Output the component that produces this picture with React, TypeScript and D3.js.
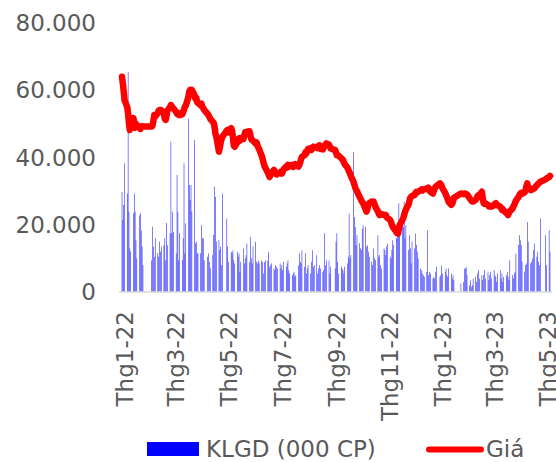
import * as d3 from "d3";

// price (thousand VND), one row per month of trading days
const price2022 = [
  64.0, 62.0, 59.5, 57.0, 55.0, 53.0, 50.0, 48.2, 49.5, 51.7, 50.5, 48.8, 50.0, 49.5, 49.2, 48.5, 49.0, 49.3, 49.2,
  49.2, 49.5, 51.0, 52.6, 52.2, 53.2, 54.0, 54.1, 53.8, 54.1, 53.0, 51.5, 51.2, 52.5, 54.0, 55.0,
  55.6, 55.2, 54.8, 54.5, 53.6, 53.0, 52.8, 53.2, 52.6, 52.8, 53.5, 54.3, 55.1, 55.4, 58.0, 59.6, 60.1, 59.8, 60.1, 58.5, 57.5, 57.8, 56.5,
  56.2, 55.5, 56.0, 55.0, 54.7, 54.2, 53.0, 52.6, 52.1, 51.5, 50.6, 50.3, 49.0, 47.0, 46.2, 41.7, 43.0, 44.5, 45.5, 46.2,
  48.0, 48.2, 47.5, 48.7, 48.0, 46.0, 43.5, 43.2, 44.5, 45.5, 45.7, 45.0, 45.8, 45.5, 46.5, 47.5, 47.2, 47.7, 47.8, 46.5,
  45.5, 45.2, 45.0, 44.2, 44.5, 43.7, 43.0, 42.5, 40.5, 39.5, 38.5, 37.5, 37.0, 35.5, 34.8, 34.2, 34.8, 35.2, 36.3, 35.8, 35.3, 35.0,
  35.2, 35.4, 35.8, 35.2, 35.8, 36.5, 37.3, 37.0, 37.8, 37.3, 37.5, 37.8, 37.2, 37.8, 38.0, 37.6, 37.3, 37.8, 38.5, 39.5, 40.2,
  40.7, 41.5, 41.2, 42.0, 42.5, 42.8, 42.3, 42.8, 43.2, 43.0, 43.1, 42.8, 43.5, 43.6, 42.6, 42.4, 43.0, 43.5, 43.8, 44.2, 43.8, 43.2, 42.7,
  42.2, 41.5, 40.7, 40.8, 40.5, 39.8, 39.5, 39.3, 38.5, 38.0, 37.0, 36.5, 35.8, 35.3, 34.5, 32.8, 32.0, 31.0, 30.5, 30.0,
  28.3, 27.8, 27.2, 26.8, 26.4, 24.5, 23.9, 24.8, 26.0, 26.4, 26.9, 26.8, 26.9, 26.2, 25.4, 24.0, 23.2, 22.9, 23.0, 23.2, 22.9,
  23.0, 22.9, 22.3, 22.0, 21.4, 20.8, 20.0, 19.4, 19.0, 17.9, 17.5, 17.4, 18.8, 20.0, 21.4, 22.0, 22.9, 23.8, 24.5, 26.0, 27.0, 28.0,
  28.3, 28.6, 28.8, 29.5, 29.8, 29.6, 29.8, 30.3, 30.5, 30.2, 30.5, 30.6, 30.8, 30.5, 31.0, 30.2, 29.8, 29.3, 30.0, 30.8, 31.3, 31.5,
];
const price2023 = [
  32.3, 32.0, 31.5, 30.8, 29.5, 28.8, 28.3, 27.5, 26.8, 25.9, 26.2, 27.0, 28.0, 29.3, 29.1, 29.3,
  29.3, 29.0, 29.0, 27.9, 27.5, 27.2, 26.9, 26.9, 27.4, 27.8, 28.5, 28.8, 28.8, 29.8, 28.0, 26.4, 26.2, 26.4, 25.9, 25.4,
  25.4, 25.6, 25.4, 25.8, 26.2, 26.4, 26.0, 25.8, 25.4, 25.0, 24.4, 24.6, 24.2, 23.5, 23.2, 22.9, 23.5, 24.0, 24.8, 25.4, 25.9, 26.5, 27.2,
  28.3, 28.8, 29.3, 29.5, 29.2, 29.6, 30.3, 31.5, 32.3, 31.0, 30.3, 30.6, 30.5, 30.8, 30.8, 31.8, 32.0, 32.3, 32.5, 32.8,
  33.5, 33.8, 34.2, 34.5,
];

// volume (thousand shares)
const volume2022 = [
  29.8, 21.4, 25.9, 38.3, 29.3, 65.5, 23.9, 13.0, 12.0, 23.4, 29.3, 23.9, 15.4, 10.0, 22.8, 23.4, 18.3, 13.5, 8.0,
  9.4, 19.4, 13.5, 10.5, 16.0, 11.6, 10.5, 15.0, 12.0, 13.5, 13.9, 16.0, 9.4, 20.5, 13.9, 17.5,
  44.7, 17.5, 23.9, 17.9, 11.5, 34.8, 23.9, 9.4, 17.5, 9.5, 16.0, 38.3, 11.5, 20.4, 51.6, 31.8, 27.4, 31.8, 24.0, 45.2, 14.5, 15.0, 11.5,
  11.5, 11.5, 19.9, 16.0, 16.0, 9.4, 10.5, 11.5, 9.0, 7.1, 11.0, 17.0, 31.3, 28.3, 15.0, 15.5, 12.5, 13.5, 8.0, 29.3,
  21.8, 13.5, 9.0, 11.9, 11.5, 12.4, 9.5, 8.5, 12.0, 10.5, 11.5, 5.9, 9.0, 12.9, 8.5, 10.0, 10.9, 14.4, 8.9, 16.4,
  10.0, 8.5, 13.5, 14.9, 9.0, 8.5, 9.4, 8.5, 9.4, 8.9, 5.5, 8.9, 9.4, 9.4, 11.9, 7.4, 8.0, 8.5, 7.0, 6.5, 8.0, 7.5,
  7.0, 8.5, 7.0, 8.0, 6.5, 9.0, 7.5, 8.5, 9.4, 6.5, 5.5, 5.0, 5.5, 6.0, 4.5, 5.0, 7.9, 11.5, 9.0, 8.5, 12.4,
  7.5, 11.5, 5.5, 7.0, 8.0, 5.5, 9.0, 12.4, 7.5, 8.0, 10.9, 5.5, 7.0, 8.0, 7.0, 6.0, 6.5, 17.5, 8.0, 9.4, 9.4, 5.5, 7.5,
  7.0, 14.9, 17.5, 9.0, 5.5, 7.5, 7.0, 6.5, 5.5, 7.5, 8.5, 10.5, 23.3, 10.0, 11.0, 41.6, 22.3, 19.3, 13.9, 16.9,
  14.5, 13.0, 12.5, 18.9, 19.8, 19.4, 13.5, 13.9, 12.0, 10.5, 9.0, 8.0, 13.0, 10.0, 9.5, 16.9, 10.5, 11.0, 8.0, 7.0, 13.0,
  12.5, 11.0, 13.5, 14.4, 10.5, 10.0, 12.5, 15.4, 14.0, 16.0, 19.0, 18.4, 26.4, 19.8, 21.3, 19.4, 26.9, 16.0, 19.8, 12.5, 16.9, 13.0,
  8.5, 15.0, 13.0, 17.4, 14.0, 12.0, 10.0, 7.0, 6.5, 5.5, 5.0, 4.5, 6.0, 18.3, 5.0, 6.0, 5.5, 4.0, 4.5, 4.0, 6.0, 7.5,
];
const volume2023 = [
  4.5, 5.0, 7.9, 5.5, 6.0, 7.0, 5.0, 4.5, 7.0, 5.5, 4.0, 5.0, 3.5, 2.5, 3.0, 7.0,
  7.0, 7.4, 5.0, 2.0, 3.5, 1.5, 2.0, 4.0, 4.5, 3.0, 5.5, 6.5, 4.0, 5.0, 3.5, 5.0, 6.5, 4.0, 6.0, 3.5,
  5.0, 6.0, 4.0, 6.5, 5.0, 4.5, 3.0, 5.5, 6.5, 4.0, 5.5, 3.0, 4.5, 5.0, 6.0, 4.5, 3.5, 9.4, 5.0, 4.0, 5.5, 6.0, 11.4,
  14.0, 16.9, 15.4, 13.9, 9.0, 6.0, 8.0, 8.5, 20.8, 15.0, 8.5, 9.0, 10.0, 12.5, 14.4, 10.5, 12.0, 9.0, 8.0, 21.9,
  16.9, 8.0, 18.4, 12.0,
];

// market closed
const holidays = [
  "2022-01-31", "2022-02-01", "2022-02-02", "2022-02-03", "2022-02-04",
  "2022-04-11", "2022-05-02", "2022-05-03", "2022-09-01", "2022-09-02",
  "2023-01-02", "2023-01-20", "2023-01-23", "2023-01-24", "2023-01-25", "2023-01-26",
  "2023-05-01", "2023-05-02", "2023-05-03",
];

const yTicks = [0, 20000, 40000, 60000, 80000];
const xTickLabels = ["Thg1-22", "Thg3-22", "Thg5-22", "Thg7-22", "Thg9-22", "Thg11-22", "Thg1-23", "Thg3-23", "Thg5-23"];

const W = 556;
const H = 462;
const FONT = "DejaVu Sans";
const TXT = "#595959";

const start = new Date(2022, 0, 4);
const end = new Date(2023, 4, 9);
const fmtDay = d3.timeFormat("%Y-%m-%d");
const days = d3
  .timeDay.range(start, d3.timeDay.offset(end, 1))
  .filter((d) => d.getDay() !== 0 && d.getDay() !== 6 && !holidays.includes(fmtDay(d)));

const prices = [...price2022, ...price2023];
const volumes = [...volume2022, ...volume2023];
const n = Math.min(days.length, prices.length, volumes.length);
const rows = d3.range(n).map((i) => ({
  date: days[i],
  price: prices[i] * 1000,
  vol: volumes[i] * 1000,
}));

const tickDates = xTickLabels.map((_, i) => d3.timeMonth.offset(new Date(2022, 0, 7), i * 2));

export default function App() {
  const x = d3.scaleTime().domain([start, end]).range([122, 550]);
  const y = d3.scaleLinear().domain([0, 80000]).range([292, 23]);
  const fmtY = (v: number) => d3.format(",")(v).replace(/,/g, ".");

  const line = d3
    .line<any>()
    .x((d) => x(d.date))
    .y((d) => y(d.price));

  const barW = 0.5;

  return (
    <svg
      width={W}
      height={H}
      style={{ position: "absolute", left: 0, top: 0, background: "#fff" }}
      fontFamily={FONT}
    >
      {/* volume bars */}
      <g fill="#0000ff">
        {rows.map((d, i) => (
          <rect
            key={i}
            x={x(d.date) - barW / 2}
            y={y(d.vol)}
            width={barW}
            height={y(0) - y(d.vol)}
          />
        ))}
      </g>

      {/* baseline */}
      <line x1={119} x2={552} y1={y(0)} y2={y(0)} stroke="#d9d9d9" strokeWidth={1.5} />

      {/* price line */}
      <path
        d={line(rows) || ""}
        fill="none"
        stroke="#ff0000"
        strokeWidth={6.5}
        strokeLinejoin="round"
        strokeLinecap="round"
      />

      {/* y labels */}
      {yTicks.map((t) => (
        <text
          key={t}
          x={96}
          y={y(t)}
          textAnchor="end"
          dominantBaseline="central"
          fontSize={23}
          fill={TXT}
        >
          {fmtY(t)}
        </text>
      ))}

      {/* x labels */}
      {tickDates.map((d, i) => (
        <text
          key={i}
          transform={`translate(${x(d)},311) rotate(-90)`}
          textAnchor="end"
          dominantBaseline="central"
          fontSize={23}
          fill={TXT}
        >
          {xTickLabels[i]}
        </text>
      ))}

      {/* legend */}
      <rect x={147} y={442} width={52} height={14} fill="#0000ff" />
      <text x={206} y={449} dominantBaseline="central" fontSize={23} fill={TXT}>
        KLGD (000 CP)
      </text>
      <line x1={429} x2={481} y1={449.5} y2={449.5} stroke="#ff0000" strokeWidth={6} strokeLinecap="round" />
      <text x={486} y={449} dominantBaseline="central" fontSize={23} fill={TXT}>
        Giá
      </text>
    </svg>
  );
}
